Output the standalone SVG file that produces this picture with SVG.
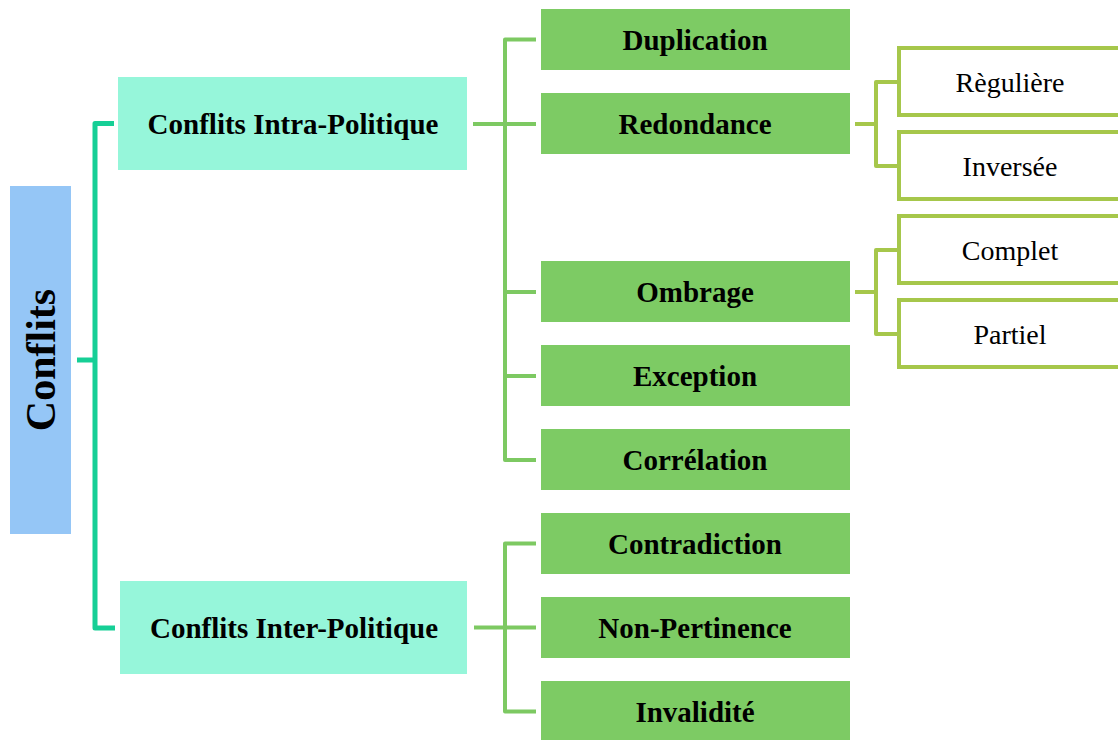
<svg xmlns="http://www.w3.org/2000/svg" width="1118" height="740" viewBox="0 0 1118 740">
  <style>
    .bold { font-family: "Liberation Serif", "Times New Roman", serif; font-weight: bold; font-size: 29px; fill: #000; text-anchor: middle; }
    .reg { font-family: "Liberation Serif", "Times New Roman", serif; font-size: 28px; fill: #000; text-anchor: middle; }
    .root { fill: #95c6f6; }
    .cat { fill: #96f6da; }
    .type { fill: #7dcb64; }
    .sub { fill: #fff; stroke: #a6c74b; stroke-width: 4; }
    .l-teal { fill: none; stroke: #16cf96; stroke-width: 5; stroke-linejoin: round; }
    .l-green { fill: none; stroke: #7dc962; stroke-width: 4; stroke-linejoin: round; }
    .l-olive { fill: none; stroke: #a6c74b; stroke-width: 4; stroke-linejoin: round; }
  </style>
  <rect width="1118" height="740" fill="#fff"/>

  <!-- connectors -->
  <g id="connectors">
    <path class="l-teal" d="M114 123.5 H95 V628 H115 M77 360 H95"/>
    <path class="l-green" d="M473 124 H505 M536 39.5 H505 V460 H536 M505 124 H536 M505 292 H536 M505 376 H536"/>
    <path class="l-green" d="M474 627.5 H505 M536 543.5 H505 V711.5 H536 M505 627.5 H536"/>
    <path class="l-olive" d="M855 124 H876 M897 82 H876 V166 H897"/>
    <path class="l-olive" d="M855 292 H876 M897 250 H876 V334 H897"/>
  </g>

  <!-- root -->
  <g id="conflits">
    <rect class="root" x="10" y="186" width="61" height="348"/>
    <text class="bold" style="font-size:42px" transform="translate(54.5,360) rotate(-90)">Conflits</text>
  </g>

  <!-- categories -->
  <g id="intra">
    <rect class="cat" x="118" y="77" width="349" height="93"/>
    <text class="bold" x="293" y="133.5">Conflits Intra-Politique</text>
  </g>
  <g id="inter">
    <rect class="cat" x="120" y="581" width="347" height="93"/>
    <text class="bold" x="294" y="637.5">Conflits Inter-Politique</text>
  </g>

  <!-- conflict types -->
  <g id="duplication">
    <rect class="type" x="541" y="9" width="309" height="61"/>
    <text class="bold" x="695" y="49.5">Duplication</text>
  </g>
  <g id="redondance">
    <rect class="type" x="541" y="93" width="309" height="61"/>
    <text class="bold" x="695" y="133.5">Redondance</text>
  </g>
  <g id="ombrage">
    <rect class="type" x="541" y="261" width="309" height="61"/>
    <text class="bold" x="695" y="301.5">Ombrage</text>
  </g>
  <g id="exception">
    <rect class="type" x="541" y="345" width="309" height="61"/>
    <text class="bold" x="695" y="385.5">Exception</text>
  </g>
  <g id="correlation">
    <rect class="type" x="541" y="429" width="309" height="61"/>
    <text class="bold" x="695" y="469.5">Corrélation</text>
  </g>
  <g id="contradiction">
    <rect class="type" x="541" y="513" width="309" height="61"/>
    <text class="bold" x="695" y="553.5">Contradiction</text>
  </g>
  <g id="non-pertinence">
    <rect class="type" x="541" y="597" width="309" height="61"/>
    <text class="bold" x="695" y="637.5">Non-Pertinence</text>
  </g>
  <g id="invalidite">
    <rect class="type" x="541" y="681" width="309" height="61"/>
    <text class="bold" x="695" y="721.5">Invalidité</text>
  </g>

  <!-- sub-types -->
  <g id="reguliere">
    <rect class="sub" x="899" y="48" width="225" height="67"/>
    <text class="reg" x="1010" y="91.5">Règulière</text>
  </g>
  <g id="inversee">
    <rect class="sub" x="899" y="132" width="225" height="67"/>
    <text class="reg" x="1010" y="175.5">Inversée</text>
  </g>
  <g id="complet">
    <rect class="sub" x="899" y="216" width="225" height="67"/>
    <text class="reg" x="1010" y="259.5">Complet</text>
  </g>
  <g id="partiel">
    <rect class="sub" x="899" y="300" width="225" height="67"/>
    <text class="reg" x="1010" y="343.5">Partiel</text>
  </g>
</svg>
